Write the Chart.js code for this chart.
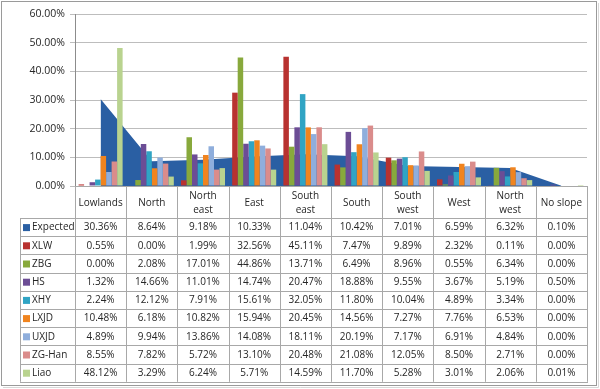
<!DOCTYPE html>
<html lang="en">
<head>
  <meta charset="UTF-8" />
  <title>Slope aspect distribution</title>
  <script src="https://cdn.jsdelivr.net/npm/chart.js"></script>
  <style>
    body { margin: 0; background: #fff; }
  </style>
</head>
<body>
  <canvas id="myChart" width="600" height="389"></canvas>

  <script>
    // categories (aspect classes)
    const categories = ['Lowlands', 'North', 'North east', 'East', 'South east',
                        'South', 'South west', 'West', 'North west', 'No slope'];

    // series values, in percent
    const expected = [30.36, 8.64, 9.18, 10.33, 11.04, 10.42, 7.01, 6.59, 6.32, 0.10];
    const xlw      = [0.55, 0.00, 1.99, 32.56, 45.11, 7.47, 9.89, 2.32, 0.11, 0.00];
    const zbg      = [0.00, 2.08, 17.01, 44.86, 13.71, 6.49, 8.96, 0.55, 6.34, 0.00];
    const hs       = [1.32, 14.66, 11.01, 14.74, 20.47, 18.88, 9.55, 3.67, 5.19, 0.50];
    const xhy      = [2.24, 12.12, 7.91, 15.61, 32.05, 11.80, 10.04, 4.89, 3.34, 0.00];
    const lxjd     = [10.48, 6.18, 10.82, 15.94, 20.45, 14.56, 7.27, 7.76, 6.53, 0.00];
    const uxjd     = [4.89, 9.94, 13.86, 14.08, 18.11, 20.19, 7.17, 6.91, 4.84, 0.00];
    const zgHan    = [8.55, 7.82, 5.72, 13.10, 20.48, 21.08, 12.05, 8.50, 2.71, 0.00];
    const liao     = [48.12, 3.29, 6.24, 5.71, 14.59, 11.70, 5.28, 3.01, 2.06, 0.01];

    // y axis ticks
    const yTicks = [0, 10, 20, 30, 40, 50, 60];

    const font = '"Open Sans", sans-serif';

    const barSeries = [
      { label: 'XLW',    data: xlw,   color: '#B83230' },
      { label: 'ZBG',    data: zbg,   color: '#88A93C' },
      { label: 'HS',     data: hs,    color: '#6C4D95' },
      { label: 'XHY',    data: xhy,   color: '#30A4C4' },
      { label: 'LXJD',   data: lxjd,  color: '#F0841F' },
      { label: 'UXJD',   data: uxjd,  color: '#8FAEDC' },
      { label: 'ZG-Han', data: zgHan, color: '#DA8C8B' },
      { label: 'Liao',   data: liao,  color: '#B9D38F' }
    ];

    const datasets = [{
      type: 'line',
      label: 'Expected',
      data: expected,
      backgroundColor: '#2A5FA3',
      borderColor: '#2A5FA3',
      borderWidth: 0,
      pointRadius: 0,
      tension: 0,
      fill: 'origin',
      order: 2
    }].concat(barSeries.map(s => ({
      type: 'bar',
      label: s.label,
      data: s.data,
      backgroundColor: s.color,
      borderWidth: 0,
      categoryPercentage: 0.86,
      barPercentage: 1.0,
      order: 1
    })));

    // white background and the outer frame
    const framePlugin = {
      id: 'frame',
      beforeDraw(chart) {
        const c = chart.ctx;
        c.save();
        c.fillStyle = '#fff';
        c.fillRect(0, 0, chart.width, chart.height);
        c.strokeStyle = '#9A9A9A';
        c.lineWidth = 1;
        c.strokeRect(1.5, 1.5, 595, 384);
        c.strokeStyle = '#D8D8D8';
        c.beginPath();
        c.moveTo(598.5, 3); c.lineTo(598.5, 387.5); c.lineTo(3, 387.5);
        c.stroke();
        c.restore();
      }
    };

    // data table under the plot, column edges taken from the x scale
    const tablePlugin = {
      id: 'dataTable',
      afterDraw(chart) {
        const c = chart.ctx;
        const xs = chart.scales.x;
        const area = chart.chartArea;
        const n = categories.length;
        const w = (area.right - area.left) / n;
        const top = area.bottom;
        const headH = 32;
        const rowH = 18.2;
        const legLeft = 20;
        const rows = chart.data.datasets;
        const bottom = top + headH + rowH * rows.length;

        c.save();
        c.strokeStyle = '#A8A8A8';
        c.lineWidth = 1;
        c.beginPath();
        // vertical lines
        for (let i = 0; i <= n; i++) {
          const x = Math.round(area.left + i * w) + 0.5;
          c.moveTo(x, top); c.lineTo(x, bottom);
        }
        c.moveTo(legLeft + 0.5, top + headH); c.lineTo(legLeft + 0.5, bottom);
        // horizontal lines
        c.moveTo(area.left, Math.round(top) + 0.5); c.lineTo(area.right, Math.round(top) + 0.5);
        for (let r = 0; r <= rows.length; r++) {
          const y = Math.round(top + headH + r * rowH) + 0.5;
          c.moveTo(legLeft, y); c.lineTo(area.right + 1, y);
        }
        c.stroke();

        c.fillStyle = '#262626';
        c.font = '10px ' + font;
        c.textAlign = 'center';
        c.textBaseline = 'middle';
        // header
        categories.forEach((cat, i) => {
          const cx = xs.getPixelForValue(i);
          const parts = cat === 'No slope' ? [cat] : cat.split(' ');
          if (parts.length === 1) {
            c.fillText(parts[0], cx, top + headH / 2 + 1);
          } else {
            c.fillText(parts[0], cx, top + headH / 2 - 6);
            c.fillText(parts[1], cx, top + headH / 2 + 8);
          }
        });
        // rows
        rows.forEach((ds, r) => {
          const cy = top + headH + r * rowH + rowH / 2 + 0.5;
          c.fillStyle = ds.backgroundColor;
          c.fillRect(legLeft + 3, cy - 3.5, 7, 7);
          c.fillStyle = '#262626';
          c.textAlign = 'left';
          c.fillText(ds.label, legLeft + 12, cy);
          c.textAlign = 'center';
          ds.data.forEach((v, i) => {
            c.fillText(v.toFixed(2) + '%', xs.getPixelForValue(i), cy);
          });
        });
        c.restore();
      }
    };

    new Chart(document.getElementById('myChart'), {
      data: { labels: categories, datasets: datasets },
      options: {
        responsive: false,
        animation: false,
        layout: { padding: { left: 0, top: 14, right: 13, bottom: 203 } },
        scales: {
          x: { display: false, offset: true },
          y: {
            min: 0,
            max: 60,
            afterFit(s) { s.width = 75; },
            afterBuildTicks(s) { s.ticks = yTicks.map(v => ({ value: v })); },
            ticks: {
              padding: 5,
              color: '#262626',
              font: { family: font, size: 10.5 },
              callback: v => v.toFixed(2) + '%'
            },
            grid: { color: '#BDBDBD', tickLength: 5 },
            border: { color: '#8C8C8C' }
          }
        },
        plugins: {
          legend: { display: false },
          tooltip: { enabled: false }
        }
      },
      plugins: [framePlugin, tablePlugin]
    });
  </script>
</body>
</html>
